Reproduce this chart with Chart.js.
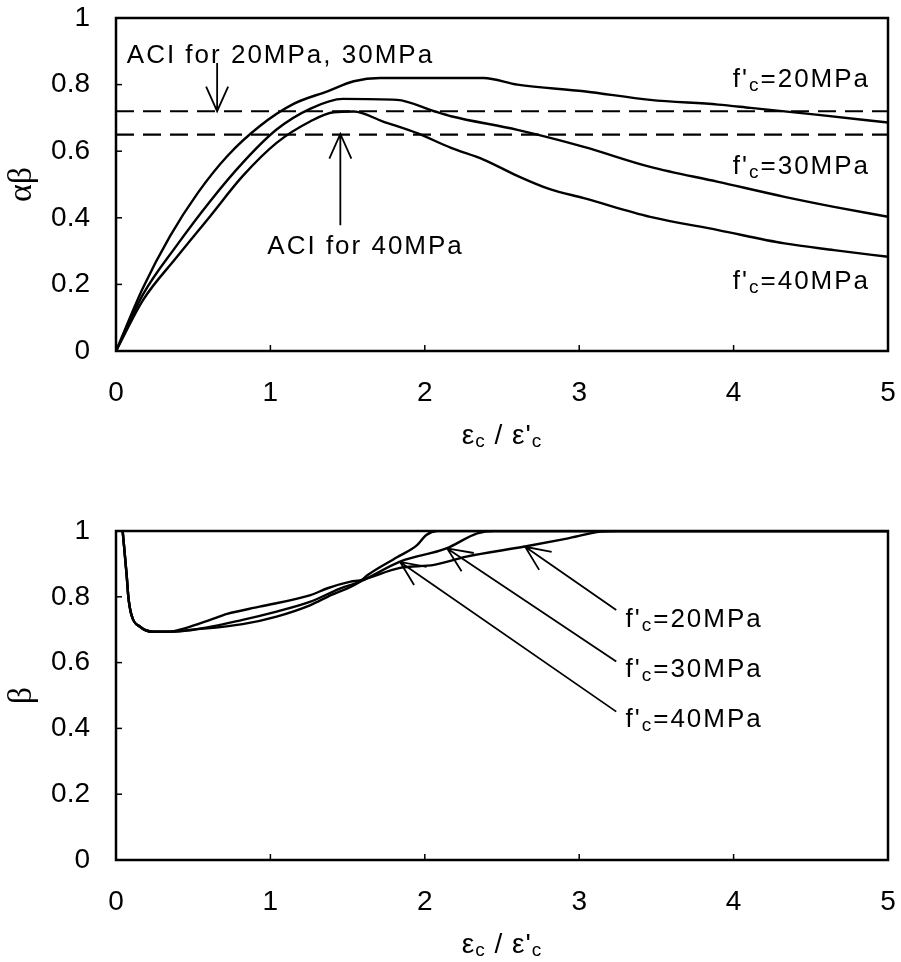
<!DOCTYPE html>
<html>
<head>
<meta charset="utf-8">
<script src="https://cdn.jsdelivr.net/npm/chart.js@4.4.0/dist/chart.umd.min.js"></script>
<style>
    html, body { margin: 0; padding: 0; background: #fff; }
    #wrap { position: relative; width: 901px; height: 962px; }
    .box { position: absolute; left: 0; width: 901px; height: 481px; }
</style>
</head>
<body>
<div id="wrap">
    <div class="box" style="top:0"><canvas id="chartTop"></canvas></div>
    <div class="box" style="top:481px"><canvas id="chartBottom"></canvas></div>
</div>
<script>
// Ticks dos eixos
const xTicks = [0, 1, 2, 3, 4, 5];
const yTicks = [0, 0.2, 0.4, 0.6, 0.8, 1];

// Gráfico superior: alpha*beta x eps_c / eps'_c
const ab20x = [0, 0.175, 0.35, 0.53, 0.72, 0.93, 1.15, 1.37, 1.54, 1.71, 2.38, 2.6, 3.03, 3.46, 3.9, 4.11, 4.55, 5];
const ab20y = [0, 0.19, 0.345, 0.475, 0.585, 0.675, 0.742, 0.78, 0.81, 0.82, 0.82, 0.80, 0.78, 0.754, 0.74, 0.73, 0.709, 0.686];

const ab30x = [0, 0.175, 0.39, 0.61, 0.82, 1.04, 1.26, 1.47, 1.82, 2.06, 2.17, 2.6, 3.03, 3.46, 3.9, 4.33, 4.65, 5];
const ab30y = [0, 0.17, 0.315, 0.45, 0.565, 0.665, 0.728, 0.757, 0.754, 0.72, 0.705, 0.664, 0.613, 0.553, 0.508, 0.463, 0.433, 0.403];

const ab40x = [0, 0.175, 0.39, 0.61, 0.82, 1.04, 1.26, 1.41, 1.54, 1.73, 1.95, 2.17, 2.38, 2.6, 2.81, 3.03, 3.46, 3.9, 4.33, 4.65, 5];
const ab40y = [0, 0.153, 0.28, 0.405, 0.525, 0.625, 0.69, 0.717, 0.719, 0.689, 0.654, 0.61, 0.575, 0.526, 0.486, 0.459, 0.403, 0.363, 0.323, 0.303, 0.283];

// Linhas ACI (tracejadas)
const aciX = [0, 5];
const aci2030 = [0.72, 0.72];
const aci40 = [0.65, 0.65];

// Gráfico inferior: beta x eps_c / eps'_c
const b20x = [0.043, 0.069, 0.08, 0.10, 0.156, 0.24, 0.35, 0.45, 0.61, 0.72, 0.93, 1.26, 1.37, 1.52, 1.58, 1.84, 2.06, 2.27, 2.64, 2.92, 3.14, 3.25, 5];
const b20y = [1.0, 0.866, 0.80, 0.745, 0.709, 0.694, 0.694, 0.705, 0.73, 0.748, 0.77, 0.805, 0.826, 0.846, 0.85, 0.888, 0.897, 0.922, 0.952, 0.977, 0.998, 1.0, 1.0];

const b30x = [0.043, 0.069, 0.08, 0.10, 0.156, 0.24, 0.35, 0.5, 0.82, 1.04, 1.26, 1.45, 1.58, 1.84, 2.14, 2.34, 2.45, 5];
const b30y = [1.0, 0.866, 0.80, 0.745, 0.709, 0.694, 0.694, 0.70, 0.73, 0.755, 0.785, 0.825, 0.846, 0.907, 0.947, 0.993, 1.0, 1.0];

const b40x = [0.043, 0.069, 0.08, 0.10, 0.156, 0.24, 0.35, 0.5, 0.82, 1.04, 1.26, 1.37, 1.58, 1.63, 1.82, 1.95, 2.01, 2.08, 5];
const b40y = [1.0, 0.866, 0.80, 0.745, 0.709, 0.694, 0.694, 0.70, 0.717, 0.74, 0.775, 0.80, 0.846, 0.866, 0.92, 0.957, 0.988, 1.0, 1.0];

const FONT = "'Liberation Sans', Arial, sans-serif";
const SERIF = "'Liberation Serif', 'DejaVu Serif', serif";

// Textos e setas (em coordenadas de dados)
const topNotes = [
    { parts: [{ t: 'ACI for 20MPa, 30MPa' }], x: 0.07, y: 0.886 },
    { parts: [{ t: 'ACI for 40MPa' }], x: 0.98, y: 0.312 },
    { parts: [{ t: "f'" }, { t: 'c', sub: true }, { t: '=20MPa' }], x: 3.995, y: 0.814 },
    { parts: [{ t: "f'" }, { t: 'c', sub: true }, { t: '=30MPa' }], x: 3.995, y: 0.553 },
    { parts: [{ t: "f'" }, { t: 'c', sub: true }, { t: '=40MPa' }], x: 3.995, y: 0.207 }
];
const topArrows = [
    { from: [0.655, 0.865], to: [0.655, 0.72] },
    { from: [1.453, 0.378], to: [1.453, 0.652] }
];
const bottomNotes = [
    { parts: [{ t: "f'" }, { t: 'c', sub: true }, { t: '=20MPa' }], x: 3.30, y: 0.729 },
    { parts: [{ t: "f'" }, { t: 'c', sub: true }, { t: '=30MPa' }], x: 3.30, y: 0.578 },
    { parts: [{ t: "f'" }, { t: 'c', sub: true }, { t: '=40MPa' }], x: 3.30, y: 0.426 }
];
const bottomArrows = [
    { from: [3.24, 0.76], to: [2.65, 0.952] },
    { from: [3.24, 0.603], to: [2.145, 0.947] },
    { from: [3.24, 0.451], to: [1.84, 0.906] }
];

const xTitle = [{ t: 'ε' }, { t: 'c', sub: true }, { t: " / ε'" }, { t: 'c', sub: true }];

function pts(xs, ys) {
    return xs.map((x, i) => ({ x: x, y: ys[i] }));
}

function curve(xs, ys) {
    return {
        data: pts(xs, ys),
        borderColor: '#000',
        borderWidth: 2.4,
        pointRadius: 0,
        showLine: true,
        fill: false,
        cubicInterpolationMode: 'monotone'
    };
}

function dashed(xs, ys) {
    return {
        data: pts(xs, ys),
        borderColor: '#000',
        borderWidth: 2.2,
        borderDash: [18, 9],
        pointRadius: 0,
        showLine: true,
        fill: false
    };
}

// Texto com subscrito
function richWidth(ctx, parts, size, subSize) {
    let w = 0;
    parts.forEach(p => {
        ctx.font = (p.sub ? subSize : size) + 'px ' + FONT;
        w += ctx.measureText(p.t).width;
    });
    return w;
}

function drawRich(ctx, parts, x, y, size, subSize) {
    let cx = x;
    parts.forEach(p => {
        ctx.font = (p.sub ? subSize : size) + 'px ' + FONT;
        ctx.fillText(p.t, cx, y + (p.sub ? 6 : 0));
        cx += ctx.measureText(p.t).width;
    });
}

function arrow(ctx, x1, y1, x2, y2) {
    const ang = Math.atan2(y1 - y2, x1 - x2);
    const L = 27, h = 0.42;
    ctx.beginPath();
    ctx.moveTo(x1, y1);
    ctx.lineTo(x2, y2);
    ctx.moveTo(x2 + L * Math.cos(ang + h), y2 + L * Math.sin(ang + h));
    ctx.lineTo(x2, y2);
    ctx.lineTo(x2 + L * Math.cos(ang - h), y2 + L * Math.sin(ang - h));
    ctx.stroke();
}

// Plugin: moldura, ticks internos, títulos, anotações
function makeDecor(yTitle, notes, arrows) {
    return {
        id: 'decor',
        afterDatasetsDraw(chart) {
            const { ctx, chartArea: a, scales } = chart;
            const sx = scales.x, sy = scales.y;
            ctx.save();
            ctx.strokeStyle = '#000';
            ctx.fillStyle = '#000';

            // ticks internos
            ctx.lineWidth = 1.5;
            xTicks.forEach(v => {
                const px = sx.getPixelForValue(v);
                ctx.beginPath();
                ctx.moveTo(px, a.bottom);
                ctx.lineTo(px, a.bottom - 6);
                ctx.stroke();
            });
            yTicks.forEach(v => {
                const py = sy.getPixelForValue(v);
                ctx.beginPath();
                ctx.moveTo(a.left, py);
                ctx.lineTo(a.left + 6, py);
                ctx.stroke();
            });

            // moldura
            ctx.lineWidth = 2.5;
            ctx.strokeRect(a.left, a.top, a.right - a.left, a.bottom - a.top);

            // setas
            ctx.lineWidth = 1.8;
            arrows.forEach(ar => {
                arrow(ctx,
                    sx.getPixelForValue(ar.from[0]), sy.getPixelForValue(ar.from[1]),
                    sx.getPixelForValue(ar.to[0]), sy.getPixelForValue(ar.to[1]));
            });

            // anotações
            ctx.letterSpacing = '2px';
            ctx.textBaseline = 'middle';
            ctx.textAlign = 'left';
            notes.forEach(n => {
                drawRich(ctx, n.parts, sx.getPixelForValue(n.x), sy.getPixelForValue(n.y), 26, 19);
            });

            // título do eixo x
            ctx.letterSpacing = '1px';
            const w = richWidth(ctx, xTitle, 28, 19);
            drawRich(ctx, xTitle, (a.left + a.right) / 2 - w / 2, a.bottom + 85, 28, 19);

            // título do eixo y
            ctx.letterSpacing = '0px';
            ctx.translate(22, (a.top + a.bottom) / 2);
            ctx.rotate(-Math.PI / 2);
            ctx.textAlign = 'center';
            ctx.font = '34px ' + SERIF;
            ctx.fillText(yTitle, 0, 0);
            ctx.restore();
        }
    };
}

function makeChart(id, datasets, padTop, xHeight, yTitle, notes, arrows) {
    const ctx = document.getElementById(id).getContext('2d');
    return new Chart(ctx, {
        type: 'scatter',
        data: { datasets: datasets },
        options: {
            responsive: true,
            maintainAspectRatio: false,
            animation: false,
            events: [],
            layout: { padding: { top: padTop, right: 13, left: 0, bottom: 0 } },
            plugins: { legend: { display: false }, tooltip: { enabled: false } },
            scales: {
                x: {
                    type: 'linear',
                    min: 0,
                    max: 5,
                    afterBuildTicks: s => { s.ticks = xTicks.map(v => ({ value: v })); },
                    afterFit: s => {
                        s.height = xHeight;
                        s.paddingLeft = 0;
                        s.paddingRight = 0;
                    },
                    grid: { display: false, drawTicks: false },
                    border: { display: false },
                    ticks: {
                        color: '#000',
                        padding: 25,
                        font: { size: 28, family: FONT },
                        callback: v => String(v)
                    }
                },
                y: {
                    type: 'linear',
                    min: 0,
                    max: 1,
                    afterBuildTicks: s => { s.ticks = yTicks.map(v => ({ value: v })); },
                    afterFit: s => {
                        s.width = 116;
                        s.paddingTop = 0;
                        s.paddingBottom = 0;
                    },
                    grid: { display: false, drawTicks: false },
                    border: { display: false },
                    ticks: {
                        color: '#000',
                        padding: 26,
                        font: { size: 28, family: FONT },
                        callback: v => String(v)
                    }
                }
            }
        },
        plugins: [makeDecor(yTitle, notes, arrows)]
    });
}

makeChart('chartTop', [
    curve(ab20x, ab20y),
    curve(ab30x, ab30y),
    curve(ab40x, ab40y),
    dashed(aciX, aci2030),
    dashed(aciX, aci40)
], 18, 130, 'αβ', topNotes, topArrows);

makeChart('chartBottom', [
    curve(b20x, b20y),
    curve(b30x, b30y),
    curve(b40x, b40y)
], 50, 102, 'β', bottomNotes, bottomArrows);
</script>
</body>
</html>
